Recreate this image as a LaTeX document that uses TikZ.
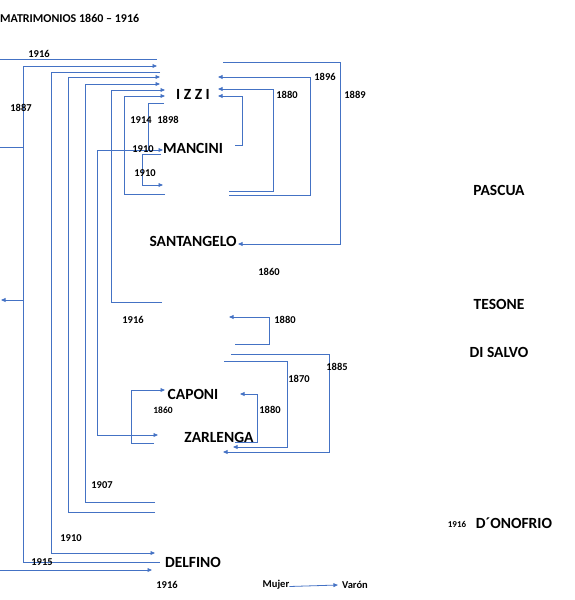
\documentclass[tikz,border=0pt]{standalone}
\usepackage{fontspec}
\setmainfont{Carlito}
\usetikzlibrary{arrows.meta}
\definecolor{lc}{HTML}{4472C4}
\begin{document}
\begin{tikzpicture}[x=1pt,y=-1pt,
  ln/.style={draw=lc, line width=0.8pt},
  arr/.style={ln, -{Triangle[length=4.5pt,width=3.8pt]}},
  nm/.style={font=\bfseries\fontsize{15.5}{15.5}\selectfont, inner sep=0pt},
  yr/.style={font=\bfseries\fontsize{10.5}{10.5}\selectfont, inner sep=0pt},
  ttl/.style={font=\bfseries\fontsize{12}{12}\selectfont, inner sep=0pt}]
\useasboundingbox (0,0) rectangle (575,600);
% title
\node[ttl, anchor=west] (title) at (0,18) {MATRIMONIOS 1860 – 1916};
% names
\node[nm] (izzi) at (193,94) {I Z Z I};
\node[nm] (mancini) at (193,148) {MANCINI};
\node[nm] (santangelo) at (193,241) {SANTANGELO};
\node[nm] (pascua) at (499,190) {PASCUA};
\node[nm] (tesone) at (499,304) {TESONE};
\node[nm] (disalvo) at (499,352) {DI SALVO};
\node[nm] (caponi) at (193,394) {CAPONI};
\node[nm] (zarlenga) at (219,437) {ZARLENGA};
\node[nm] (donofrio) at (514,523) {D´ONOFRIO};
\node[nm] (delfino) at (193,562) {DELFINO};
% left connectors
\draw[ln] (0,59) -- (157,59);
\draw[arr] (23,562) -- (23,66) -- (157,66);
\draw[ln] (23,562) -- (160,562);
\draw[ln] (0,147) -- (23,147);
\draw[arr] (23,300) -- (1,300);
\draw[arr] (160,72) -- (51,72) -- (51,553) -- (155,553);
\draw[arr] (155,512) -- (68,512) -- (68,77) -- (160,77);
\draw[arr] (155,502) -- (85,502) -- (85,84) -- (160,84);
\draw[arr] (162,302) -- (111,302) -- (111,90) -- (165,90);
\draw[arr] (165,194) -- (124,194) -- (124,96) -- (165,96);
\draw[ln] (164,103) -- (148,103) -- (148,150);
\draw[arr] (97,150) -- (163,150);
\draw[arr] (97,150) -- (97,435) -- (158,435);
\draw[arr] (161,154) -- (142,154) -- (142,185) -- (163,185);
\draw[arr] (0,570) -- (152,570);
% right connectors
\draw[arr] (223,62) -- (340,62) -- (340,244) -- (238,244);
\draw[arr] (229,195) -- (310,195) -- (310,77) -- (218,77);
\draw[arr] (229,191) -- (273,191) -- (273,89) -- (218,89);
\draw[arr] (235,145) -- (242,145) -- (242,96) -- (218,96);
\draw[arr] (235,344) -- (269,344) -- (269,317) -- (229,317);
\draw[arr] (231,354) -- (329,354) -- (329,452) -- (223,452);
\draw[arr] (224,361) -- (287,361) -- (287,447) -- (233,447);
\draw[arr] (235,442) -- (257,442) -- (257,394) -- (240,394);
\draw[arr] (154,443) -- (131,443) -- (131,390) -- (165,390);
% years
\node[yr] (y1) at (39,54) {1916};
\node[yr] (y2) at (21,108) {1887};
\node[yr] (y3) at (141,120) {1914};
\node[yr] (y4) at (168,120) {1898};
\node[yr] (y5) at (143,149) {1910};
\node[yr] (y6) at (145,173) {1910};
\node[yr] (y7) at (325,77) {1896};
\node[yr] (y8) at (287,95) {1880};
\node[yr] (y9) at (355,95) {1889};
\node[yr] (y10) at (269,272) {1860};
\node[yr] (y11) at (133,320) {1916};
\node[yr] (y12) at (285,320) {1880};
\node[yr] (y13) at (337,367) {1885};
\node[yr] (y14) at (299,379) {1870};
\node[yr, font=\bfseries\fontsize{9.5}{9.5}\selectfont] (y15) at (163,410) {1860};
\node[yr] (y16) at (270,410) {1880};
\node[yr] (y17) at (102,485) {1907};
\node[yr] (y18) at (71,538) {1910};
\node[yr] (y19) at (42,562) {1915};
\node[yr] (y20) at (167,585) {1916};
\node[yr, font=\bfseries\fontsize{9}{9}\selectfont] (y21) at (457,524) {1916};
% legend
\node[yr] (mujer) at (276,585) {Mujer};
\node[yr] (varon) at (355,585) {Varón};
\draw[arr] (mujer.east) ++(0,1.5) -- ([xshift=-4pt]varon.west);
\end{tikzpicture}
\end{document}
